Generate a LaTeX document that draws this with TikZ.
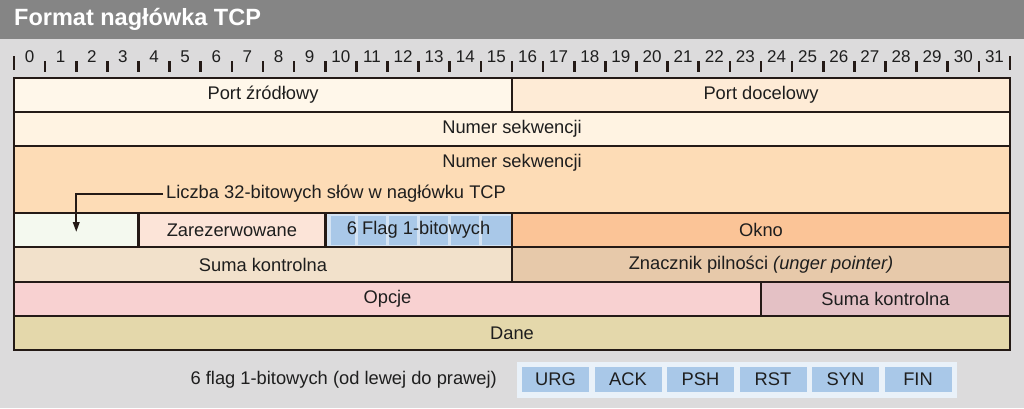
\documentclass[tikz,border=0pt]{standalone}
\usepackage{fontspec}
\setmainfont{Liberation Sans}
\usetikzlibrary{arrows.meta}

% palette
\definecolor{bggray}{HTML}{DCDBDC}
\definecolor{titlegray}{HTML}{858585}
\definecolor{edge}{HTML}{241A16}
\definecolor{ink}{HTML}{1E1E1E}
\definecolor{cSrc}{HTML}{FFF7EA}
\definecolor{cDst}{HTML}{FEEBD6}
\definecolor{cSeq}{HTML}{FFF3E2}
\definecolor{cAck}{HTML}{FDDCB6}
\definecolor{cOff}{HTML}{F4F9EF}
\definecolor{cRes}{HTML}{FCE4D8}
\definecolor{cFlagBg}{HTML}{D4E3F3}
\definecolor{cFlag}{HTML}{A9C8E8}
\definecolor{cWin}{HTML}{FBC497}
\definecolor{cSum}{HTML}{F2E1CB}
\definecolor{cUrg}{HTML}{E7C9AA}
\definecolor{cOpt}{HTML}{F8D1D1}
\definecolor{cSum2}{HTML}{E4C1C5}
\definecolor{cData}{HTML}{E4D8AB}
\definecolor{cLegendBg}{HTML}{E9F1F9}

\newcommand\bitw{31.125}
% field box spanning bits #2..#3 between rows #4..#5
\newcommand\fieldbox[7]{%
  \node[field, fill=#6, minimum width={(#3-#2)*\bitw*1pt}, minimum height={(#5-#4)*1pt}]
    (#1) at ({14+(#2+#3)/2*\bitw},{(#4+#5)/2}) {#7};}

\tikzset{
  field/.style={draw=edge, line width=2.5pt, rectangle, inner sep=0pt, outer sep=0pt,
    text=ink, font=\fontsize{18.3}{20}\selectfont},
  label/.style={text=ink, font=\fontsize{18.3}{20}\selectfont, inner sep=0pt},
  digit/.style={text=ink, font=\fontsize{17}{18}\selectfont, inner sep=0pt},
  flagblock/.style={fill=cFlag, draw=none, rectangle, inner sep=0pt, outer sep=0pt,
    minimum width=67pt, minimum height=25pt, text=ink, font=\fontsize{18.3}{20}\selectfont},
  pointer/.style={draw=edge, line width=2pt, -{Triangle[length=10pt,width=6.5pt]}},
}

\begin{document}
\begin{tikzpicture}[x=1pt,y=-1pt]
\useasboundingbox (0,0) rectangle (1024,408);
\fill[bggray] (0,0) rectangle (1024,408);
\fill[titlegray] (0,0) rectangle (1024,39);
\node[anchor=west, text=white, inner sep=0pt,
  font=\fontsize{23.5}{25}\bfseries\selectfont] (title) at (14,19.5) {Format nagłówka TCP};

% bit ruler
\foreach \i in {1,...,31}
  \draw[edge, line width=2.6pt] ({14+\i*\bitw},61) -- ({14+\i*\bitw},72);
\foreach \i in {0,32}
  \draw[edge, line width=1.4pt] ({14+\i*\bitw},56) -- ({14+\i*\bitw},70);
\foreach \i in {0,...,31}
  \node[digit] (bit\i) at ({14+(\i+0.5)*\bitw},57) {\i};

% header fields
\fieldbox{srcport}{0}{16}{78}{112}{cSrc}{Port źródłowy}
\fieldbox{dstport}{16}{32}{78}{112}{cDst}{Port docelowy}
\fieldbox{seqnum}{0}{32}{112}{146}{cSeq}{Numer sekwencji}
\fieldbox{acknum}{0}{32}{146}{213}{cAck}{}
\fieldbox{offset}{0}{4}{213}{247}{cOff}{}
\fieldbox{reserved}{4}{10}{213}{247}{cRes}{Zarezerwowane}
\fieldbox{flags}{10}{16}{213}{247}{cFlagBg}{}
\fieldbox{window}{16}{32}{213}{247}{cWin}{Okno}
\fieldbox{checksum}{0}{16}{247}{282}{cSum}{Suma kontrolna}
\fieldbox{urgent}{16}{32}{247}{282}{cUrg}{Znacznik pilności \textit{(unger pointer)}}
\fieldbox{options}{0}{24}{282}{316}{cOpt}{Opcje}
\fieldbox{optsum}{24}{32}{282}{316}{cSum2}{Suma kontrolna}
\fieldbox{data}{0}{32}{316}{350}{cData}{Dane}

% flag bits inside the flags field
\foreach \k in {0,...,5}
  \fill[cFlag] ({14+(10+\k)*\bitw+(\k==0?6:1.5)},215.5) rectangle ({14+(11+\k)*\bitw-1.5},244.5);
\node[label] (flagslabel) at (flags.center) {6 Flag 1-bitowych};
\draw[edge, line width=2.5pt] (flags.north west) rectangle (flags.south east);

% second sequence row texts and data offset pointer
\node[label] (acklabel) at ({14+16*\bitw},163) {Numer sekwencji};
\node[label, inner sep=3pt, anchor=west] (offlabel) at (163,194) {Liczba 32-bitowych słów w nagłówku TCP};
\draw[pointer] (offlabel.west) -| ([yshift=-2pt]offset.center);

% legend of the six flags
\node[label, anchor=east] (legendtext) at (497,380) {6 flag 1-bitowych (od lewej do prawej)};
\node[fill=cLegendBg, rectangle, inner sep=0pt, minimum width=440pt, minimum height=36pt]
  (legend) at (737,380) {};
\foreach \f [count=\n from 0] in {URG,ACK,PSH,RST,SYN,FIN}
  \node[flagblock] (flag\f) at ({555.5+\n*72.5},379.5) {\f};
\end{tikzpicture}
\end{document}
